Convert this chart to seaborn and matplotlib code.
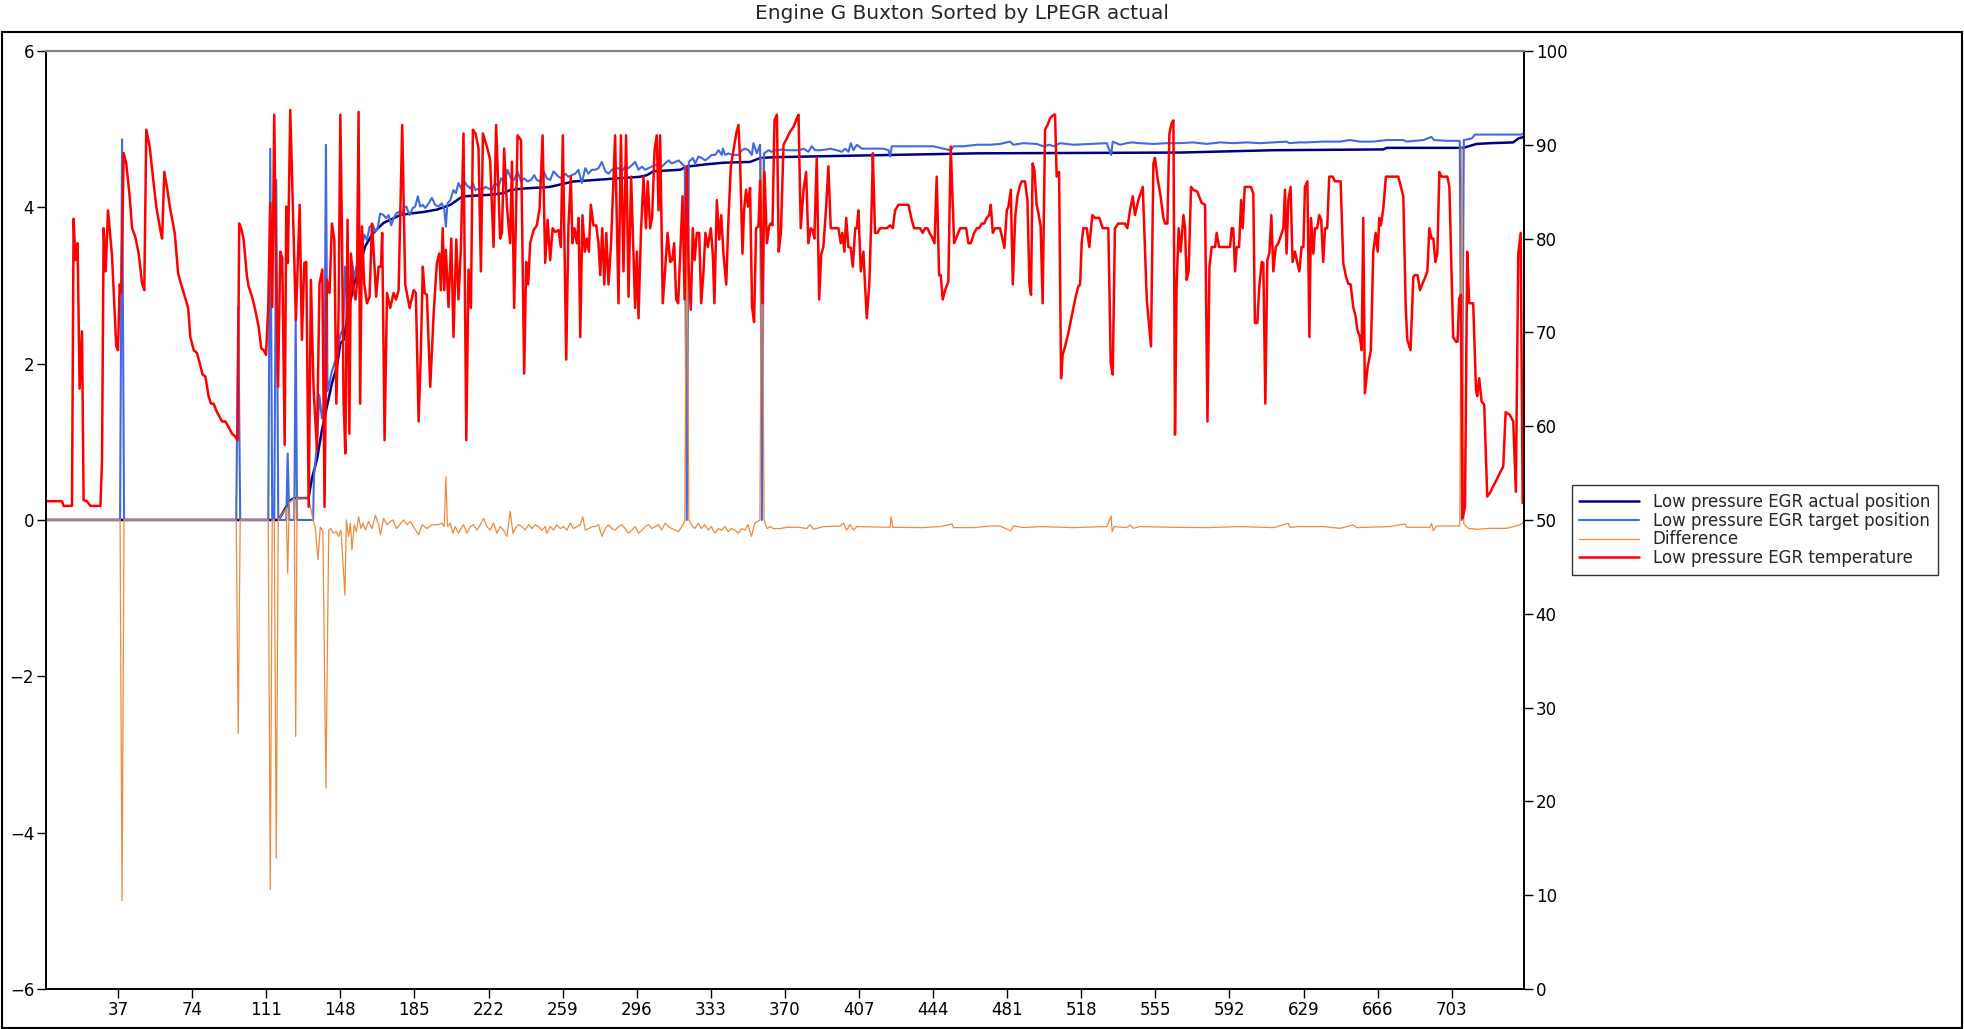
import pandas as pd
import seaborn as sns
import matplotlib.pyplot as plt
from matplotlib.patches import Rectangle


# values, (sample index, value)
actual_pts = [
    (1, 0), (117, 0), (119, 0.08), (121, 0.17), (123, 0.25), (125, 0.28), (132.1, 0.28),
    (133.8, 0.53), (136.3, 0.77), (138.8, 1.15), (141.3, 1.45), (143.8, 1.75), (146.3, 1.96),
    (148, 2.26), (149.6, 2.30), (152.1, 2.69), (154.6, 2.99), (158, 3.28), (160.4, 3.5),
    (163.8, 3.65), (166.3, 3.72), (169.6, 3.80), (172.9, 3.84), (177.9, 3.9), (182.9, 3.92),
    (189.6, 3.94), (196.2, 3.97), (202.9, 4.03), (207.9, 4.12), (209.5, 4.14), (222.8, 4.16),
    (229.5, 4.18), (232.8, 4.22), (239.5, 4.24), (252.5, 4.26), (264.4, 4.33), (281, 4.36),
    (297.7, 4.39), (301, 4.41), (304.4, 4.46), (317.7, 4.48), (321, 4.52), (331, 4.55),
    (339.3, 4.57), (352.6, 4.58), (357.6, 4.63), (364.3, 4.64), (382.6, 4.65), (465.8, 4.69),
    (567.3, 4.70), (613.9, 4.73), (668.8, 4.74), (670.5, 4.76), (708.7, 4.76), (715.4, 4.81),
    (722.1, 4.82), (733.7, 4.83), (736.2, 4.88), (739, 4.9),
]

target_pts = [
    (1, 0), (38, 0), (39, 4.87), (40, 0), (96, 0), (97, 2.73), (98, 0), (112, 0), (113, 4.75),
    (114, 0), (115, 0), (116, 4.35), (117, 0), (121, 0), (121.7, 0.85), (122.5, 0), (125, 0),
    (125.7, 2.6), (126.4, 0), (134.4, 0), (134.8, 0.55), (136.3, 0.95), (137.5, 1.6),
    (138.8, 1.3), (140, 1.5), (140.8, 4.8), (141.6, 1.65), (143.8, 1.9), (146.3, 2.1),
    (148, 2.37), (149.5, 2.45), (150.3, 3.24), (151.5, 2.7), (152.5, 2.85), (153.8, 3.3),
    (155, 3.1), (156.5, 3.3), (158, 3.37), (158.8, 3.5), (160, 3.65), (161.3, 3.58),
    (162.6, 3.75), (164.3, 3.77), (165.4, 3.69), (166.6, 3.73), (167.9, 3.92), (169.6, 3.9),
    (170.9, 3.86), (172.1, 3.9), (173.4, 3.77), (174.6, 3.86), (175.9, 3.92), (177.1, 3.94),
    (178.4, 3.9), (179.6, 3.99), (180.9, 4.01), (182.6, 3.9), (184.2, 3.99), (185.4, 4.01),
    (186.7, 4.14), (187.9, 4.01), (189.2, 4.03), (190.4, 3.99), (192.1, 4.05), (193.7, 4.12),
    (195.4, 4.03), (197.1, 4.01), (198.7, 4.05), (199.9, 3.97), (200.7, 3.75), (201.5, 4.05),
    (202.9, 4.09), (204.5, 4.22), (205.7, 4.18), (207, 4.31), (208.4, 4.24), (209.5, 4.35),
    (211.2, 4.28), (212.9, 4.24), (214.2, 4.31), (215.4, 4.22), (217, 4.24), (218.7, 4.22),
    (220.4, 4.26), (222, 4.24), (223.7, 4.22), (225.3, 4.31), (227, 4.26), (228.3, 4.37),
    (230, 4.31), (231.5, 4.48), (233.2, 4.37), (234.8, 4.35), (236.5, 4.46), (238.2, 4.33),
    (239.8, 4.37), (241.5, 4.33), (243.2, 4.35), (244.8, 4.41), (246.1, 4.35), (247.8, 4.33),
    (249.5, 4.46), (251.1, 4.37), (252.8, 4.35), (254.5, 4.46), (257, 4.39), (258.6, 4.37),
    (260.3, 4.43), (261.9, 4.39), (263.6, 4.41), (265.3, 4.43), (266.9, 4.48), (268.6, 4.31),
    (270.3, 4.50), (271.9, 4.43), (273.6, 4.48), (275.3, 4.48), (276.9, 4.5), (278.6, 4.58),
    (280.3, 4.46), (281.9, 4.43), (283.6, 4.48), (285.2, 4.5), (286.9, 4.5), (288.6, 4.46),
    (290.2, 4.52), (291.9, 4.5), (293.6, 4.54), (295.2, 4.58), (296.9, 4.48), (298.6, 4.52),
    (300.2, 4.48), (301.9, 4.5), (303.6, 4.52), (305.2, 4.54), (306.9, 4.54), (308.5, 4.52),
    (310.2, 4.56), (311.9, 4.6), (313.5, 4.56), (315.2, 4.58), (316.9, 4.6), (318.5, 4.56),
    (320, 4.52), (321, 0), (322, 4.58), (324, 4.63), (325.2, 4.56), (326.8, 4.65),
    (328.5, 4.63), (330.2, 4.6), (331.8, 4.63), (333.5, 4.67), (335.2, 4.67), (336.8, 4.73),
    (338.5, 4.67), (339, 4.75), (340.2, 4.67), (341.8, 4.69), (343.5, 4.67), (345.2, 4.67),
    (346.8, 4.67), (348.5, 4.73), (350.1, 4.75), (351.8, 4.73), (353.5, 4.67), (354.3, 4.82),
    (356, 4.69), (357.6, 4.8), (358.5, 0), (359.6, 4.69), (361.8, 4.73), (363.5, 4.71),
    (365.1, 4.73), (366.8, 4.73), (368.5, 4.74), (371, 4.73), (377.3, 4.73), (379.3, 4.75),
    (381.7, 4.71), (383.4, 4.78), (385.1, 4.73), (387.6, 4.73), (390.9, 4.74), (392.6, 4.75),
    (395.9, 4.73), (398.4, 4.71), (400.1, 4.75), (401.7, 4.71), (402.9, 4.82), (404.2, 4.73),
    (405.9, 4.80), (408.4, 4.75), (412.5, 4.75), (415.9, 4.75), (419.2, 4.75), (421.7, 4.73),
    (422.5, 4.65), (423.4, 4.78), (425.9, 4.78), (430.9, 4.78), (435.8, 4.78), (439.2, 4.78),
    (444.2, 4.78), (449.1, 4.75), (452.8, 4.73), (454.2, 4.78), (459.1, 4.78), (465.8, 4.80),
    (472.5, 4.80), (477.4, 4.81), (482.4, 4.84), (484.1, 4.80), (489.1, 4.82), (495.7, 4.81),
    (499.1, 4.78), (502.1, 4.80), (504.1, 4.78), (507.4, 4.82), (514, 4.80), (522.4, 4.81),
    (530.7, 4.82), (532.9, 4.67), (533.7, 4.84), (537.3, 4.80), (540.7, 4.82), (543.2, 4.83),
    (547.3, 4.82), (554, 4.81), (560.6, 4.82), (567.3, 4.82), (573.9, 4.83), (580.6, 4.81),
    (587.3, 4.83), (594, 4.82), (600.6, 4.83), (607.2, 4.82), (613.9, 4.83), (620.5, 4.84),
    (621.9, 4.82), (626.9, 4.83), (630.5, 4.83), (638.8, 4.84), (647.2, 4.84), (652.2, 4.86),
    (657.2, 4.84), (663.8, 4.84), (670.5, 4.86), (678.8, 4.86), (680.4, 4.84), (688.8, 4.86),
    (692.9, 4.9), (694.1, 4.86), (700.4, 4.85), (707, 4.85), (708, 0), (709, 4.86),
    (712.9, 4.88), (714.6, 4.93), (722.1, 4.93), (730.4, 4.93), (737.9, 4.93), (739, 4.95),
]

diff_pts = [
    (1, 0), (38, 0), (39, -4.87), (40, 0), (96, 0), (97, -2.73), (98, 0), (112, 0), (113, -4.73),
    (114, 0), (115, 0), (116, -4.33), (117, 0), (119, 0.08), (121, 0.15), (121.7, -0.68),
    (122.5, 0.22), (125, 0.28), (125.7, -2.77), (126.4, 0.28), (132.1, 0.28), (134.4, 0.0),
    (135.5, -0.1), (136.8, -0.51), (138, -0.09), (139.3, -0.15), (140.8, -3.43), (142.2, -0.13),
    (143.3, -0.11), (144.6, -0.17), (146, -0.15), (147.1, -0.21), (148.3, -0.13), (150.3, -0.96),
    (151, 0), (152.1, -0.21), (153, -0.04), (153.8, -0.38), (155, -0.06), (156, -0.15),
    (157.1, 0.04), (158.3, -0.11), (159.3, -0.04), (160.5, -0.13), (162.1, -0.02),
    (163.8, -0.11), (165.5, 0.06), (167.1, -0.06), (168, -0.19), (169.6, 0.02), (171.3, -0.06),
    (173, -0.02), (174.3, 0), (176, -0.11), (177.6, -0.06), (179.6, 0), (181.3, -0.06),
    (183, -0.02), (184.6, -0.09), (187.1, -0.19), (188.8, -0.06), (191.2, -0.11),
    (193.7, -0.06), (197.1, -0.06), (198.7, -0.04), (199.9, -0.085), (200.7, 0.55),
    (201.5, -0.085), (202.9, -0.04), (204.2, -0.17), (205.4, -0.085), (207, -0.17),
    (208.2, -0.11), (209.5, -0.06), (211.2, -0.17), (212.9, -0.085), (214.5, -0.06),
    (216.2, -0.13), (217.9, -0.06), (219.5, 0.02), (221.2, -0.085), (222.8, -0.13),
    (224.5, -0.04), (226.2, -0.17), (227.8, -0.085), (229.5, -0.13), (231.2, -0.21),
    (232.8, 0.11), (234.2, -0.17), (235.3, -0.11), (237, -0.06), (238.7, -0.085),
    (240.3, -0.13), (242, -0.06), (243.7, -0.11), (245.3, -0.06), (247, -0.085),
    (248.6, -0.13), (250.3, -0.085), (251.1, -0.17), (252.8, -0.085), (254.5, -0.13),
    (256.1, -0.06), (257.8, -0.11), (259.5, -0.085), (261.1, -0.13), (262.8, -0.04),
    (264.4, -0.11), (266.1, -0.085), (267.8, -0.06), (269.1, 0.04), (270.3, -0.13),
    (271.9, -0.11), (273.6, -0.085), (275.3, -0.085), (276.9, -0.06), (278.6, -0.21),
    (280.3, -0.11), (281.9, -0.06), (283.6, -0.11), (285.2, -0.13), (286.9, -0.085),
    (288.6, -0.06), (290.2, -0.11), (291.9, -0.17), (293.6, -0.13), (295.2, -0.085),
    (296.9, -0.17), (298.6, -0.13), (300.2, -0.085), (301.9, -0.06), (303.6, -0.11),
    (305.2, -0.085), (306.9, -0.06), (308.5, -0.13), (310.2, -0.04), (311.9, -0.085),
    (313.5, -0.11), (315.2, -0.13), (316.9, -0.15), (318.5, -0.085), (320, -0.02),
    (321, 4.5), (322, 0.0), (323.3, -0.06), (325, -0.11), (326.7, -0.04), (328.3, -0.11),
    (330, -0.06), (331.7, -0.13), (333.3, -0.085), (335, -0.17), (336.7, -0.11),
    (338.3, -0.13), (340, -0.085), (341.7, -0.15), (343.3, -0.11), (345, -0.13),
    (346.7, -0.17), (348.3, -0.11), (350, -0.13), (351.6, -0.06), (353.3, -0.21),
    (355, -0.04), (357.5, 0.0), (358.5, 4.63), (359.6, 0.0), (361, -0.11), (362.7, -0.085),
    (364.3, -0.11), (367.6, -0.11), (371, -0.094), (377.3, -0.094), (380.9, -0.11),
    (382.6, -0.06), (384.2, -0.12), (389.2, -0.085), (397.6, -0.077), (399.2, -0.04),
    (400.9, -0.13), (402.5, -0.06), (404.2, -0.13), (405.9, -0.085), (422.5, -0.094),
    (423, 0.04), (423.9, -0.094), (439.2, -0.098), (447.5, -0.085), (453.5, -0.05),
    (454.2, -0.098), (464.1, -0.098), (472.5, -0.077), (477.4, -0.077), (482.8, -0.14),
    (484.1, -0.077), (489.1, -0.098), (497.4, -0.085), (514, -0.098), (530.7, -0.085),
    (532.9, 0.05), (533.4, -0.15), (534.4, -0.085), (540.7, -0.098), (542.3, -0.064),
    (544, -0.107), (547.3, -0.085), (564, -0.094), (580.6, -0.098), (597.3, -0.085),
    (614, -0.098), (621.4, -0.043), (622.2, -0.094), (626.9, -0.085), (638.8, -0.085),
    (647.2, -0.107), (653.8, -0.064), (655.5, -0.098), (672.1, -0.085), (679.6, -0.05),
    (680.4, -0.094), (692.1, -0.094), (692.9, -0.043), (693.8, -0.137), (695.4, -0.077),
    (707, -0.077), (708, 4.76), (709, -0.05), (709.6, -0.064), (711.2, -0.107),
    (715.4, -0.12), (722, -0.107), (730.4, -0.107), (737, -0.064), (738.7, -0.03),
]

temp_pts = [
    (1.5, 52.0), (9, 52.0), (9.8, 51.5), (14, 51.5), (14.8, 82.1), (15.7, 77.7), (16.8, 79.5),
    (17.8, 64.0), (19, 70.1), (19.8, 52.1), (21.5, 52.0), (23.2, 51.5), (28.2, 51.5),
    (29, 56.4), (29.8, 81.1), (30.8, 76.5), (32, 83.0), (34, 78.1), (36.1, 68.5), (37, 68.1),
    (37.8, 75.1), (38.6, 74.2), (39.8, 89.1), (41.1, 88.0), (42.8, 84.5), (44, 81.1),
    (45.6, 80.2), (47.3, 78.4), (49, 75.2), (50.1, 74.5), (51.1, 91.6), (52.8, 89.8),
    (54.4, 86.6), (56.1, 83.4), (58.1, 80.9), (59, 80.0), (60.1, 87.1), (61.4, 85.5),
    (63.1, 83.1), (65.3, 80.6), (67, 76.3), (68.1, 75.4), (69.8, 74.2), (72, 72.6),
    (73.1, 69.5), (74.8, 68.1), (76.4, 67.8), (77.8, 66.7), (79.2, 65.5), (80.6, 65.3),
    (82.2, 63.2), (83.4, 62.4), (84.7, 62.4), (86.4, 61.5), (88.9, 60.5), (90.6, 60.5),
    (92.2, 59.9), (93.9, 59.2), (95.5, 58.9), (96.7, 58.5), (97.5, 81.6), (98.5, 81.1),
    (99.7, 79.9), (101.4, 75.9), (102.2, 74.9), (103.9, 73.8), (105.5, 72.4), (107.2, 70.6),
    (108.5, 68.3), (109.7, 68.1), (110.9, 67.6), (112, 72.7), (113, 83.8), (114, 72.7),
    (115, 93.2), (116, 75.2), (116.9, 64.2), (118, 78.6), (119, 77.9), (120.2, 58.0),
    (121, 83.4), (121.8, 77.4), (123, 93.7), (124.7, 79.9), (125.8, 71.3), (127.7, 83.6),
    (128.8, 69.2), (130, 77.4), (131, 77.5), (132.2, 51.4), (133.3, 75.6), (134.6, 64.2),
    (136.3, 57.5), (137.6, 75.2), (139, 76.7), (140.1, 51.4), (141.3, 75.6), (142.6, 74.2),
    (143.8, 81.6), (145, 79.9), (146, 62.4), (147.1, 71.7), (148, 93.2), (148.8, 80.6),
    (149.6, 62.8), (150.5, 57.1), (151.6, 82.0), (152.5, 59.2), (153.3, 78.4), (154.6, 74.5),
    (155.6, 73.5), (156.3, 75.2), (157.1, 93.5), (157.9, 62.4), (158.8, 81.3), (159.9, 75.2),
    (161.3, 73.1), (162.6, 73.8), (163.8, 81.6), (164.6, 78.8), (165.9, 73.8), (167.1, 77.0),
    (168.3, 77.0), (168.9, 80.6), (170.1, 58.5), (171.3, 74.2), (172.9, 72.6), (174.6, 74.2),
    (175.8, 73.5), (177.1, 74.5), (178.9, 92.1), (180.4, 75.1), (182.6, 72.6), (184.6, 74.5),
    (185.7, 74.2), (187.1, 60.5), (188.2, 67.8), (189.2, 77.0), (190.1, 74.2), (191.2, 74.0),
    (192.9, 64.2), (194.6, 72.0), (196.2, 77.4), (197.4, 78.4), (198.2, 74.5), (199.1, 81.1),
    (199.9, 74.5), (200.7, 78.8), (202, 72.7), (203.4, 80.0), (204.5, 69.5), (205.9, 79.9),
    (207, 73.5), (208.2, 79.0), (209.5, 91.2), (210.9, 58.5), (212, 76.7), (213.2, 72.6),
    (214.2, 91.6), (215.5, 91.2), (217, 89.6), (218.2, 76.5), (219.2, 91.2), (221.2, 89.8),
    (222.8, 88.4), (224.5, 79.1), (225.8, 92.1), (227.8, 80.0), (228.7, 80.6), (229.8, 89.6),
    (231.2, 83.4), (232.8, 79.5), (233.7, 88.2), (234.8, 72.6), (236.5, 91.0), (238.2, 90.5),
    (239.8, 65.6), (240.8, 77.5), (241.8, 75.1), (242.8, 79.5), (244.5, 80.9), (246.1, 81.4),
    (247.5, 83.2), (249, 91.0), (250.3, 77.4), (251.5, 82.0), (252.8, 77.7), (254, 81.1),
    (255.3, 80.7), (257, 80.9), (258.1, 79.1), (259.1, 91.0), (260.8, 67.1), (261.9, 81.3),
    (263.1, 86.6), (263.9, 79.5), (264.9, 81.1), (266.1, 79.5), (267, 82.2), (267.8, 69.5),
    (268.9, 82.5), (270.1, 78.6), (271.1, 80.0), (272.1, 78.6), (273.1, 83.6), (274.4, 81.4),
    (275.8, 81.4), (276.9, 79.5), (277.8, 76.1), (278.8, 81.1), (279.8, 75.1), (280.8, 80.6),
    (281.9, 75.1), (283.1, 79.1), (284.1, 84.6), (285.2, 91.0), (286.9, 73.1), (288.1, 91.0),
    (289.4, 76.5), (290.7, 91.0), (291.9, 73.8), (293.2, 86.6), (294.4, 78.4), (295.2, 72.6),
    (296.1, 78.6), (296.9, 71.5), (298.1, 80.6), (299.4, 86.6), (300.6, 81.1), (301.5, 86.1),
    (302.7, 81.1), (303.7, 82.3), (304.9, 89.4), (306, 91.0), (306.9, 83.0), (307.7, 91.0),
    (309, 73.1), (310.2, 76.7), (311.4, 80.6), (312.7, 77.5), (313.7, 77.7), (314.7, 79.5),
    (315.7, 73.5), (316.7, 73.1), (317.7, 78.4), (318.9, 84.5), (319.9, 73.5), (321, 87.7),
    (322, 76.3), (323, 72.4), (324, 81.1), (324.9, 77.7), (326, 80.6), (327.2, 80.6),
    (328.2, 73.1), (329.3, 76.3), (330.3, 80.6), (331.5, 79.1), (333, 81.1), (334, 78.3),
    (334.8, 73.1), (336, 84.1), (337.2, 79.9), (338.2, 82.5), (339.3, 78.4), (340.7, 75.1),
    (341.8, 82.0), (343, 87.7), (344.3, 89.4), (345.7, 91.2), (346.8, 92.1), (347.6, 88.4),
    (348.8, 78.4), (349.6, 83.0), (350.6, 85.2), (351.6, 83.4), (352.6, 85.4), (353.6, 72.7),
    (354.6, 71.1), (355.6, 81.1), (356.8, 81.3), (357.6, 86.2), (358.8, 73.1), (359.8, 87.1),
    (361, 79.5), (362.1, 81.3), (362.9, 81.6), (363.8, 81.4), (364.8, 92.6), (366, 93.2),
    (366.9, 78.6), (368, 80.6), (369.3, 90.0), (371, 90.7), (372.6, 91.4), (374.3, 91.9),
    (375.9, 92.8), (376.8, 93.2), (377.9, 81.1), (379.3, 85.2), (380.6, 87.1), (381.7, 79.5),
    (382.9, 81.1), (383.9, 80.9), (384.7, 80.0), (385.9, 88.6), (387.1, 73.5), (388.1, 78.3),
    (389.2, 79.1), (390.6, 83.4), (391.7, 87.7), (392.9, 81.1), (394.2, 81.1), (396.7, 81.1),
    (397.9, 79.5), (398.7, 80.6), (399.7, 78.6), (400.6, 82.2), (401.7, 79.1), (402.9, 79.0),
    (403.9, 77.0), (405.1, 81.1), (405.9, 81.1), (406.7, 83.0), (407.9, 76.5), (409.2, 78.6),
    (410.0, 75.1), (410.9, 71.5), (412.2, 75.4), (413.4, 84.1), (413.9, 89.1), (415, 80.6),
    (416.2, 80.6), (417.5, 81.1), (420.9, 81.1), (422.5, 81.4), (423.9, 81.1), (425, 83.0),
    (426.7, 83.6), (431.7, 83.6), (433.3, 82.0), (434.5, 81.1), (437.5, 81.1), (438.8, 80.6),
    (440, 81.1), (441.2, 81.1), (442.2, 80.6), (443.3, 80.2), (444.7, 79.5), (445.8, 86.6),
    (447, 76.1), (447.8, 76.1), (448.8, 73.5), (450, 74.5), (451.6, 75.4), (452.8, 89.8),
    (454.5, 79.5), (455.8, 80.2), (457.5, 81.1), (460.5, 81.1), (461.6, 79.5), (462.8, 79.5),
    (464.5, 80.6), (465.8, 81.1), (467, 81.1), (468.3, 81.6), (469.5, 81.6), (470.8, 82.2),
    (472, 82.5), (472.8, 83.6), (473.8, 80.6), (475, 81.1), (477.4, 81.1), (478.6, 80.0),
    (479.6, 79.0), (480.8, 83.0), (481.6, 83.4), (482.8, 85.2), (483.8, 75.1), (485, 82.3),
    (486.1, 84.5), (487.4, 85.7), (488.3, 86.1), (489.9, 86.1), (491.1, 84.1), (492.1, 75.2),
    (492.9, 74.0), (493.7, 88.0), (494.6, 87.3), (495.7, 83.6), (496.6, 82.7), (497.7, 81.3),
    (498.7, 73.1), (499.9, 91.6), (501.1, 92.1), (502.4, 92.8), (504.1, 93.2), (504.9, 93.2),
    (505.7, 86.6), (506.9, 87.1), (507.9, 65.1), (508.7, 67.6), (509.9, 68.5), (511.5, 69.9),
    (513.2, 71.7), (514.9, 73.5), (516.5, 74.9), (517.4, 75.1), (518.2, 79.5), (519, 81.1),
    (520.7, 81.1), (522, 79.1), (523.5, 82.5), (524.9, 82.2), (527, 82.2), (528.7, 81.1),
    (531.5, 81.1), (532.7, 66.7), (533.7, 65.5), (534.8, 81.1), (536.5, 81.6), (539.8, 81.6),
    (541, 81.1), (542.3, 83.0), (543.7, 84.5), (544.8, 82.5), (546.5, 84.1), (548.7, 85.5),
    (550.7, 73.5), (552.8, 68.5), (554, 88.0), (554.8, 88.6), (556.1, 86.4), (557.6, 84.5),
    (559, 82.2), (559.8, 81.6), (561, 81.6), (562, 91.2), (563.1, 92.3), (564, 92.6),
    (564.8, 59.1), (565.6, 74.9), (566.6, 81.1), (567.6, 78.6), (569, 82.5), (569.8, 81.1),
    (570.6, 75.6), (571.6, 76.5), (572.8, 85.5), (573.9, 85.2), (575.9, 85.0), (578.1, 83.8),
    (579.8, 83.6), (581, 60.5), (582, 77.0), (583.1, 79.1), (584.8, 79.1), (585.6, 80.6),
    (586.8, 79.1), (592.3, 79.1), (593.1, 81.1), (593.9, 81.1), (594.8, 76.5), (595.6, 79.1),
    (596.8, 79.1), (597.8, 84.1), (598.6, 81.1), (599.6, 85.5), (600.6, 85.5), (602.7, 85.5),
    (603.9, 84.8), (604.7, 71.0), (605.9, 71.0), (606.9, 74.9), (608.1, 77.5), (608.9, 77.4),
    (609.9, 62.4), (610.9, 77.7), (611.9, 78.4), (612.9, 82.5), (613.9, 76.5), (615.1, 79.1),
    (616.4, 79.5), (618.1, 80.6), (618.9, 81.1), (619.7, 85.2), (620.5, 78.4), (621.4, 84.1),
    (622.5, 85.5), (623.5, 77.5), (624.7, 78.6), (625.9, 77.4), (626.9, 76.5), (628, 79.1),
    (628.9, 79.1), (629.7, 85.5), (630.9, 86.1), (631.9, 69.5), (632.7, 82.2), (633.9, 78.4),
    (634.7, 81.1), (635.8, 81.1), (636.8, 82.5), (637.8, 82.0), (638.8, 77.5), (639.7, 81.1),
    (640.8, 81.1), (641.8, 86.6), (643.5, 86.6), (644.7, 86.1), (647.5, 86.1), (648.8, 77.4),
    (650.2, 75.9), (651.3, 75.2), (652.5, 75.1), (653.8, 72.7), (655, 71.7), (655.8, 70.3),
    (657.1, 69.5), (658, 68.1), (658.8, 82.2), (659.6, 63.5), (661, 66.3), (662.6, 68.1),
    (663.8, 78.6), (665, 80.6), (666, 78.6), (666.8, 82.2), (667.6, 81.4), (668.8, 83.2),
    (670.1, 86.6), (676.3, 86.6), (677.6, 85.5), (678.8, 84.5), (680, 72.7), (680.8, 69.2),
    (682.4, 68.1), (683.8, 75.9), (684.6, 76.1), (685.9, 76.1), (687.1, 74.5), (688.4, 75.2),
    (689.6, 75.8), (690.8, 76.5), (691.8, 81.1), (692.9, 80.0), (693.8, 80.0), (694.8, 77.5),
    (695.8, 78.4), (696.8, 87.1), (697.9, 86.6), (700.8, 86.6), (701.8, 85.5), (703.7, 69.5),
    (705.1, 69.0), (705.9, 69.0), (706.7, 73.6), (707.6, 74.0), (708.4, 50.2), (709.6, 51.4),
    (710.7, 78.6), (711.7, 73.1), (713.7, 73.1), (715.1, 63.9), (715.7, 63.2), (716.7, 65.1),
    (717.9, 62.6), (719.2, 62.3), (720.7, 52.5), (722.1, 52.9), (723.7, 53.6), (725.4, 54.3),
    (727, 55.0), (728.7, 55.7), (729.9, 61.5), (732, 61.2), (733.7, 60.5), (735, 53.0),
    (736.2, 78.4), (737.4, 80.6), (738.4, 51.8),
]

x_ticks = [37, 74, 111, 148, 185, 222, 259, 296, 333, 370, 407, 444, 481, 518, 555, 592,
           629, 666, 703]
left_ticks = [-6, -4, -2, 0, 2, 4, 6]
right_ticks = [0, 10, 20, 30, 40, 50, 60, 70, 80, 90, 100]

series = [
    ('Low pressure EGR actual position', actual_pts, '#000080', 1.8),
    ('Low pressure EGR target position', target_pts, '#4169E1', 1.5),
    ('Difference', diff_pts, '#EE8A3C', 0.9),
]


def to_frame(pts):
    return pd.DataFrame(pts, columns=['sample', 'value'])


sns.set_style('white')
plt.rcParams['font.family'] = ['DejaVu Sans']
font = 12

fig = plt.figure(figsize=(19.64, 10.29), dpi=100)
ax1 = fig.add_axes([0.0234, 0.0389, 0.7525, 0.9116])

for name, pts, color, lw in series:
    sns.lineplot(data=to_frame(pts), x='sample', y='value', ax=ax1, color=color,
                 linewidth=lw, estimator=None, sort=False, label=name)

ax2 = ax1.twinx()
sns.lineplot(data=to_frame(temp_pts), x='sample', y='value', ax=ax2, color='#FF0000',
             linewidth=1.8, estimator=None, sort=False, label='Low pressure EGR temperature')

ax1.set_xlim(1, 739)
ax1.set_ylim(-6, 6)
ax2.set_ylim(0, 100)
ax1.set_xticks(x_ticks)
ax1.set_yticks(left_ticks)
ax2.set_yticks(right_ticks)
ax1.set_xlabel('')
ax1.set_ylabel('')
ax2.set_ylabel('')

ax1.tick_params(axis='both', direction='out', length=6.5, width=1, labelsize=font, pad=2,
                bottom=True, left=True, colors='black')
ax2.tick_params(axis='y', direction='out', length=6.5, width=1, labelsize=font, pad=2,
                right=True, colors='black')

for ax in (ax1, ax2):
    for side in ('left', 'bottom', 'right'):
        ax.spines[side].set_color('black')
        ax.spines[side].set_linewidth(1.2)
    ax.spines['top'].set_color('#808080')
    ax.spines['top'].set_linewidth(1.5)

# one legend for both axes, outside on the right
lines, labels = ax1.get_legend_handles_labels()
lines2, labels2 = ax2.get_legend_handles_labels()
ax1.get_legend().remove()
ax2.get_legend().remove()
leg = fig.legend(lines + lines2, labels + labels2, loc='center left',
                 bbox_to_anchor=(0.8004, 0.485), fontsize=font, frameon=True,
                 fancybox=False, edgecolor='black', labelspacing=0.05, handlelength=3.6,
                 borderpad=0.45, borderaxespad=0)
leg.get_frame().set_linewidth(1.0)

# frame round the plot area, title sits above it
fig.patches.append(Rectangle((0.0008, 0.001), 0.9984, 0.968, transform=fig.transFigure,
                             fill=False, edgecolor='black', linewidth=1.5))
fig.suptitle('Engine G Buxton Sorted by LPEGR actual', x=0.49, y=0.987, va='center',
             fontsize=14.5)

fig.savefig('out.png', dpi=100)
